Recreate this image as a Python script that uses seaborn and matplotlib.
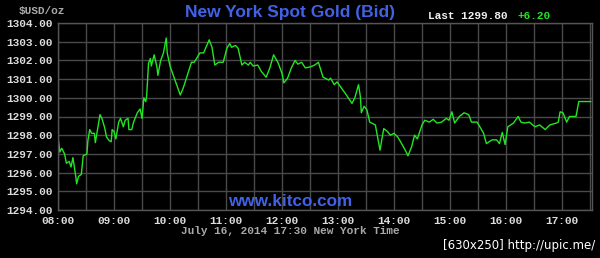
import matplotlib
matplotlib.use("Agg")
import matplotlib.pyplot as plt
import seaborn as sns
import pandas as pd
import numpy as np

times = ["08:00","08:02","08:04","08:07","08:09","08:12","08:14","08:16","08:19","08:20",
         "08:22","08:25","08:27","08:31","08:32","08:34","08:36","08:39","08:40","08:43",
         "08:45","08:47","08:50","08:52","08:55","08:57","08:58","09:00","09:02","09:05",
         "09:07","09:10","09:12","09:15","09:16","09:19","09:21","09:25","09:28","09:30",
         "09:32","09:34","09:35","09:37","09:39","09:40","09:43","09:46","09:47","09:50",
         "09:53","09:56","09:57","10:00","10:05","10:11","10:14","10:16","10:23","10:26",
         "10:32","10:36","10:42","10:45","10:48","10:52","10:57","11:01","11:04","11:06",
         "11:10","11:13","11:17","11:20","11:24","11:26","11:29","11:34","11:38","11:43",
         "11:47","11:51","11:56","12:00","12:02","12:06","12:10","12:14","12:17","12:21",
         "12:25","12:30","12:35","12:39","12:44","12:50","12:52","12:56","12:59","13:04",
         "13:09","13:15","13:18","13:22","13:24","13:25","13:28","13:31","13:34","13:40",
         "13:45","13:49","13:53","13:56","14:00","14:04","14:07","14:11","14:15","14:19",
         "14:22","14:25","14:30","14:33","14:38","14:42","14:46","14:51","14:56","14:59",
         "15:02","15:05","15:10","15:15","15:20","15:23","15:29","15:32","15:36","15:39",
         "15:45","15:50","15:53","15:56","15:59","16:02","16:08","16:13","16:16","16:20",
         "16:25","16:31","16:36","16:42","16:47","16:54","16:56","16:58","17:01","17:05",
         "17:08","17:15","17:18","17:31"]
bids = [1297.9,1297.1,1297.3,1297.0,1296.5,1296.6,1296.3,1296.8,1295.8,1295.4,
        1295.8,1295.9,1296.9,1297.0,1297.7,1298.3,1298.1,1298.1,1297.6,1298.5,
        1299.1,1298.9,1298.4,1297.9,1297.7,1297.65,1298.3,1298.2,1297.8,1298.7,
        1298.9,1298.45,1298.8,1298.9,1298.3,1298.3,1298.7,1299.2,1299.4,1298.9,
        1300.0,1299.8,1300.1,1301.85,1302.1,1301.7,1302.3,1301.65,1301.2,1302.0,
        1302.4,1303.2,1302.4,1301.7,1301.0,1300.15,1300.5,1300.8,1301.9,1301.9,
        1302.4,1302.4,1303.1,1302.7,1301.75,1301.9,1301.9,1302.65,1302.9,1302.7,
        1302.8,1302.65,1301.75,1301.9,1301.75,1301.9,1301.7,1301.75,1301.4,1301.1,
        1301.6,1302.3,1301.85,1301.3,1300.8,1301.05,1301.6,1302.0,1301.8,1301.9,
        1301.6,1301.65,1301.75,1301.9,1301.1,1300.95,1301.05,1300.7,1300.85,1300.5,
        1300.15,1299.7,1300.0,1300.7,1300.05,1299.2,1299.55,1299.35,1298.7,1298.55,
        1297.2,1298.35,1298.2,1298.0,1298.1,1297.9,1297.65,1297.3,1296.9,1297.4,
        1298.0,1297.8,1298.55,1298.8,1298.7,1298.85,1298.65,1298.7,1298.9,1298.8,
        1299.25,1298.65,1299.0,1299.2,1299.1,1298.7,1298.7,1298.45,1298.1,1297.55,
        1297.75,1297.75,1297.55,1298.15,1297.5,1298.45,1298.65,1299.0,1298.7,1298.65,
        1298.7,1298.45,1298.55,1298.3,1298.55,1298.65,1298.7,1299.25,1299.2,1298.7,
        1299.0,1299.0,1299.8,1299.8]

x_tick_labels = ["08:00","09:00","10:00","11:00","12:00","13:00","14:00","15:00","16:00","17:00"]
y_ticks = [1294, 1295, 1296, 1297, 1298, 1299, 1300, 1301, 1302, 1303, 1304]

title = "New York Spot Gold (Bid)"
last_label = "Last 1299.80"
change_label = "+6.20"
unit_label = "$USD/oz"
date_label = "July 16, 2014 17:30 New York Time"
site_label = "www.kitco.com"
credit_label = "[630x250] http://upic.me/"

def to_hours(s):
    h, m = s.split(":")
    return int(h) + int(m) / 60.0

df = pd.DataFrame({"hour": [to_hours(t) for t in times], "bid": bids})

sns.set_style("dark")
plt.rcParams["font.family"] = ["Liberation Sans", "DejaVu Sans"]

fig = plt.figure(figsize=(6.0, 2.58), dpi=100, facecolor="black")
ax = fig.add_axes([58/600, 1 - 210/258, (592 - 58)/600, (210 - 23)/258])
ax.set_facecolor("black")

sns.lineplot(data=df, x="hour", y="bid", ax=ax, color="#22e622", linewidth=1.0)

ax.set_xlim(8.0, 8.0 + (592 - 58) / 56.0)
ax.set_ylim(1294, 1304)

hour_positions = [to_hours(t) for t in x_tick_labels]
half_positions = [h + 0.5 for h in hour_positions]
ax.set_xticks(hour_positions)
ax.set_xticklabels(x_tick_labels)
ax.set_xticks(half_positions, minor=True)
ax.set_yticks(y_ticks)
ax.set_yticklabels([f"{v:.2f}" for v in y_ticks])

mono = dict(family="Liberation Mono", weight="bold", size=8)
for lab in ax.get_xticklabels() + ax.get_yticklabels():
    lab.set_fontfamily("Liberation Mono")
    lab.set_fontweight("bold")
    lab.set_fontsize(8)
    lab.set_color("#dcdcdc")
ax.tick_params(axis="both", which="both", length=0)
ax.tick_params(axis="y", pad=4)
ax.tick_params(axis="x", pad=4)

ax.grid(True, which="both", color="#4a4a4a", linewidth=1.0)
ax.set_axisbelow(True)
for sp in ax.spines.values():
    sp.set_visible(True)
    sp.set_color("#555555")
    sp.set_linewidth(1.0)
ax.set_xlabel("")
ax.set_ylabel("")

fig.text(290/600, 1 - 12/258, title, ha="center", va="center", color="#4262e6",
         fontsize=12.5, fontweight="bold", family="Liberation Sans")
fig.text(428/600, 1 - 16/258, last_label, ha="left", va="center", color="#f0f0f0",
         fontsize=8, fontweight="bold", family="Liberation Mono")
fig.text(517/600, 1 - 16/258, change_label, ha="left", va="center", color="#22e622",
         fontsize=8, fontweight="bold", family="Liberation Mono")
fig.text(42/600, 1 - 11/258, unit_label, ha="center", va="center", color="#aaaaaa",
         fontsize=8, fontweight="bold", family="Liberation Mono")
fig.text(290/600, 1 - 231/258, date_label, ha="center", va="center", color="#a8a8a8",
         fontsize=8, fontweight="bold", family="Liberation Mono")
fig.text(290/600, 1 - 202/258, site_label, ha="center", va="center", color="#4262e6",
         fontsize=12.3, fontweight="bold", family="Liberation Sans")
fig.text(595/600, 1 - 246/258, credit_label, ha="right", va="center", color="#ffffff",
         fontsize=8.5, family="DejaVu Sans")

fig.savefig("out.png", dpi=100, facecolor="black")
